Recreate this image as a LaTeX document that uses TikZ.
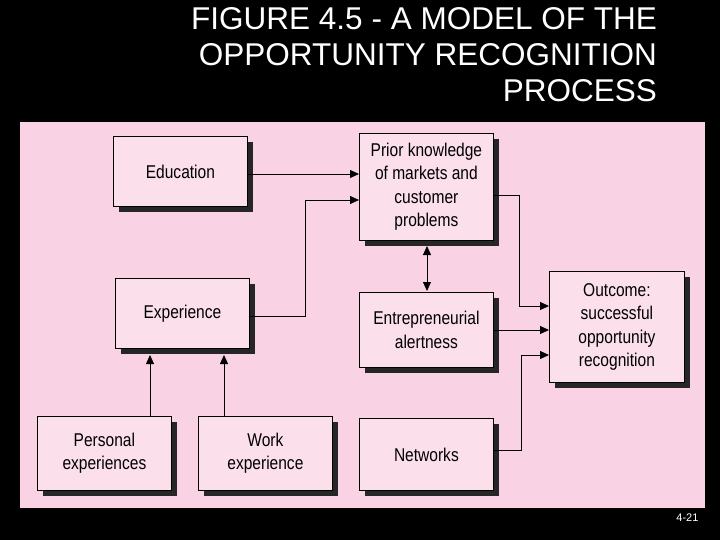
\documentclass[tikz,border=0pt]{standalone}
\usepackage{fontspec}
\setmainfont{Liberation Sans}
\newfontfamily\narrowfont[FakeStretch=0.84]{Liberation Sans}
\usetikzlibrary{arrows.meta}
\definecolor{panel}{HTML}{F9D3E4}
\definecolor{boxfill}{HTML}{FBE0EC}
\begin{document}
\begin{tikzpicture}[x=1pt,y=-1pt,
  bx/.style={draw=black,line width=0.8pt,fill=boxfill,align=center,font=\narrowfont\fontsize{18.5}{23.5}\selectfont,inner sep=0pt},
  con/.style={line width=0.8pt,-{Triangle[length=9pt,width=8pt]}}]
\fill[black] (0,0) rectangle (720,540);
\useasboundingbox (0,0) rectangle (720,540);
\fill[panel] (20,122) rectangle (705,508);
\node[white,align=right,anchor=north east,font=\fontsize{31.5}{36}\selectfont,inner sep=0pt] (title) at (657,7) {FIGURE 4.5 - A MODEL OF THE\\OPPORTUNITY RECOGNITION\\PROCESS};
\node[white,anchor=east,font=\fontsize{11}{13}\selectfont] (pg) at (702,518) {4-21};
\newcommand\shbox[6]{% name x1 y1 x2 y2 text
  \fill[black!85] (#2+6,#3+6) rectangle (#4+6,#5+6);
  \node[bx,minimum width=#4-#2,minimum height=#5-#3,anchor=north west] (#1) at (#2,#3) {#6};}
\shbox{edu}{113}{136}{247}{206}{Education}
\shbox{prior}{359}{133}{493}{240}{Prior knowledge\\of markets and\\customer\\problems}
\shbox{exp}{115}{278}{249}{348}{Experience}
\shbox{alert}{359}{292}{493}{367}{Entrepreneurial\\alertness}
\shbox{out}{549}{271}{684}{382}{Outcome:\\successful\\opportunity\\recognition}
\shbox{pers}{37}{416}{171}{490}{Personal\\experiences}
\shbox{work}{198}{416}{332}{490}{Work\\experience}
\shbox{net}{359}{418}{493}{490}{Networks}
\draw[con] (edu.east |- 0,174) -- (prior.west |- 0,174);
\draw[con] (exp.east |- 0,316) -| (305,200) -- (prior.west |- 0,200);
\draw[line width=0.8pt,{Triangle[length=9pt,width=8pt]}-{Triangle[length=9pt,width=8pt]}] (427,246) -- (427,291);
\draw[con] (prior.east |- 0,195) -| (519,306) -- (out.west |- 0,306);
\draw[con] (alert.east |- 0,330) -- (out.west |- 0,330);
\draw[con] (net.east |- 0,450) -| (521,355) -- (out.west |- 0,355);
\draw[con] (pers.north -| 150,0) -- (150,355);
\draw[con] (work.north -| 224,0) -- (224,355);
\end{tikzpicture}
\end{document}
